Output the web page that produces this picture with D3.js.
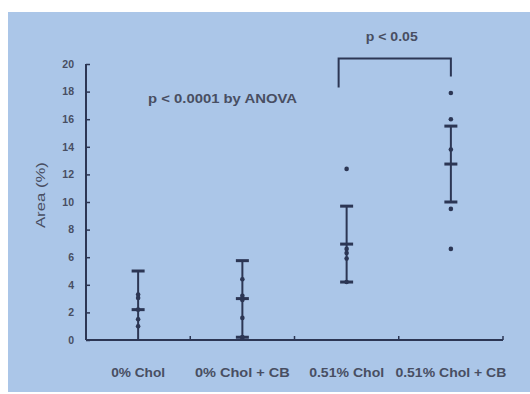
<!DOCTYPE html>
<html>
<head>
<meta charset="utf-8">
<script src="https://cdn.jsdelivr.net/npm/d3@7"></script>
<style>
  html, body { margin: 0; padding: 0; background: #fff; }
  svg { display: block; }
</style>
</head>
<body>
<div id="chart"></div>
<script>
// --- DATA ---
const categories = ["0% Chol", "0% Chol + CB", "0.51% Chol", "0.51% Chol + CB"];
const means = [2.2, 3.0, 6.95, 12.75];
const upper = [5.0, 5.75, 9.7, 15.5];
const lower = [0, 0.2, 4.2, 10.0];
const points = [
    [3.3, 3.05, 2.2, 1.5, 1.0],
    [4.4, 3.2, 3.0, 2.9, 1.6, 0.2, 0.2],
    [12.4, 6.6, 6.3, 5.9, 4.2],
    [17.9, 16.0, 13.8, 9.5, 6.6]
];
const yTicks = [0, 2, 4, 6, 8, 10, 12, 14, 16, 18, 20];

// --- CONFIGURATION ---
const WIDTH = 530;
const HEIGHT = 394;
const INK = "#2c3654";
const TEXT = "#484e62";

const svg = d3.select("#chart")
    .append("svg")
    .attr("width", WIDTH)
    .attr("height", HEIGHT)
    .style("font-family", "'Liberation Sans', Arial, sans-serif");

// scanned-slide blue background
svg.append("rect")
    .attr("x", 8).attr("y", 12)
    .attr("width", WIDTH - 8).attr("height", 380)
    .attr("fill", "#abc6e8");

const x = d3.scaleBand()
    .domain(categories)
    .range([86, 503]);

const y = d3.scaleLinear()
    .domain([0, 20])
    .range([340, 64]);

const cx = c => x(c) + x.bandwidth() / 2;

// y axis
const yAxis = d3.axisLeft(y)
    .tickValues(yTicks)
    .tickSize(-4)
    .tickPadding(12);

svg.append("g")
    .attr("transform", "translate(86,0)")
    .call(yAxis)
    .call(g => g.select(".domain").attr("stroke", INK).attr("stroke-width", 2).attr("d", `M0,${y(20)}V${y(0)}`))
    .call(g => g.selectAll(".tick line").attr("stroke", INK).attr("stroke-width", 1.5))
    .call(g => g.selectAll(".tick text")
        .attr("fill", TEXT)
        .attr("font-size", "10.5px")
        .attr("font-weight", "bold")
        .attr("font-family", "'Liberation Sans', Arial, sans-serif"));

// x axis line + boundary ticks pointing up
svg.append("line")
    .attr("x1", 86).attr("x2", 503)
    .attr("y1", y(0)).attr("y2", y(0))
    .attr("stroke", INK).attr("stroke-width", 2);

svg.selectAll(".xtick")
    .data(categories)
    .join("line")
    .attr("x1", d => x(d) + x.bandwidth())
    .attr("x2", d => x(d) + x.bandwidth())
    .attr("y1", y(0)).attr("y2", y(0) - 4)
    .attr("stroke", INK).attr("stroke-width", 1.5);

// category labels
const labelWidths = [54, 95, 75, 111];
svg.selectAll(".xlabel")
    .data(categories)
    .join("text")
    .attr("x", d => cx(d))
    .attr("y", 377)
    .attr("text-anchor", "middle")
    .attr("font-size", "12.5px")
    .attr("font-weight", "bold")
    .attr("fill", TEXT)
    .attr("textLength", (d, i) => labelWidths[i])
    .attr("lengthAdjust", "spacingAndGlyphs")
    .text(d => d);

// y axis title
svg.append("text")
    .attr("transform", `translate(45,${(y(8.5) + y(12.5)) / 2}) rotate(-90)`)
    .attr("text-anchor", "middle")
    .attr("font-size", "13.5px")
    .attr("fill", TEXT)
    .attr("textLength", 66)
    .attr("lengthAdjust", "spacingAndGlyphs")
    .text("Area (%)");

// error bars
const groups = svg.selectAll(".grp")
    .data(categories)
    .join("g");

groups.append("line")
    .attr("x1", d => cx(d)).attr("x2", d => cx(d))
    .attr("y1", (d, i) => y(upper[i]))
    .attr("y2", (d, i) => y(lower[i]))
    .attr("stroke", INK).attr("stroke-width", 2);

const capW = 6.5;
[upper, means, lower].forEach((arr, k) => {
    groups.filter((d, i) => arr[i] > 0)
        .append("line")
        .attr("x1", d => cx(d) - capW).attr("x2", d => cx(d) + capW)
        .attr("y1", (d, i) => y(arr[categories.indexOf(d)]))
        .attr("y2", (d, i) => y(arr[categories.indexOf(d)]))
        .attr("stroke", INK).attr("stroke-width", 3);
});

// individual points
categories.forEach((c, i) => {
    svg.selectAll(null)
        .data(points[i])
        .join("circle")
        .attr("cx", cx(c))
        .attr("cy", d => y(d))
        .attr("r", 2.3)
        .attr("fill", INK);
});

// annotations
svg.append("text")
    .attr("x", 148).attr("y", 103)
    .attr("font-size", "12.5px")
    .attr("font-weight", "bold")
    .attr("fill", TEXT)
    .attr("textLength", 149)
    .attr("lengthAdjust", "spacingAndGlyphs")
    .text("p < 0.0001 by ANOVA");

const bL = cx(categories[2]) - 8;
const bR = cx(categories[3]);
svg.append("path")
    .attr("d", `M${bL},${y(18.3)}V${y(20.4)}H${bR}V${y(19.1)}`)
    .attr("fill", "none")
    .attr("stroke", INK)
    .attr("stroke-width", 2);

svg.append("text")
    .attr("x", (bL + bR) / 2 - 3).attr("y", 41)
    .attr("text-anchor", "middle")
    .attr("font-size", "12.5px")
    .attr("font-weight", "bold")
    .attr("fill", TEXT)
    .attr("textLength", 52)
    .attr("lengthAdjust", "spacingAndGlyphs")
    .text("p < 0.05");
</script>
</body>
</html>
